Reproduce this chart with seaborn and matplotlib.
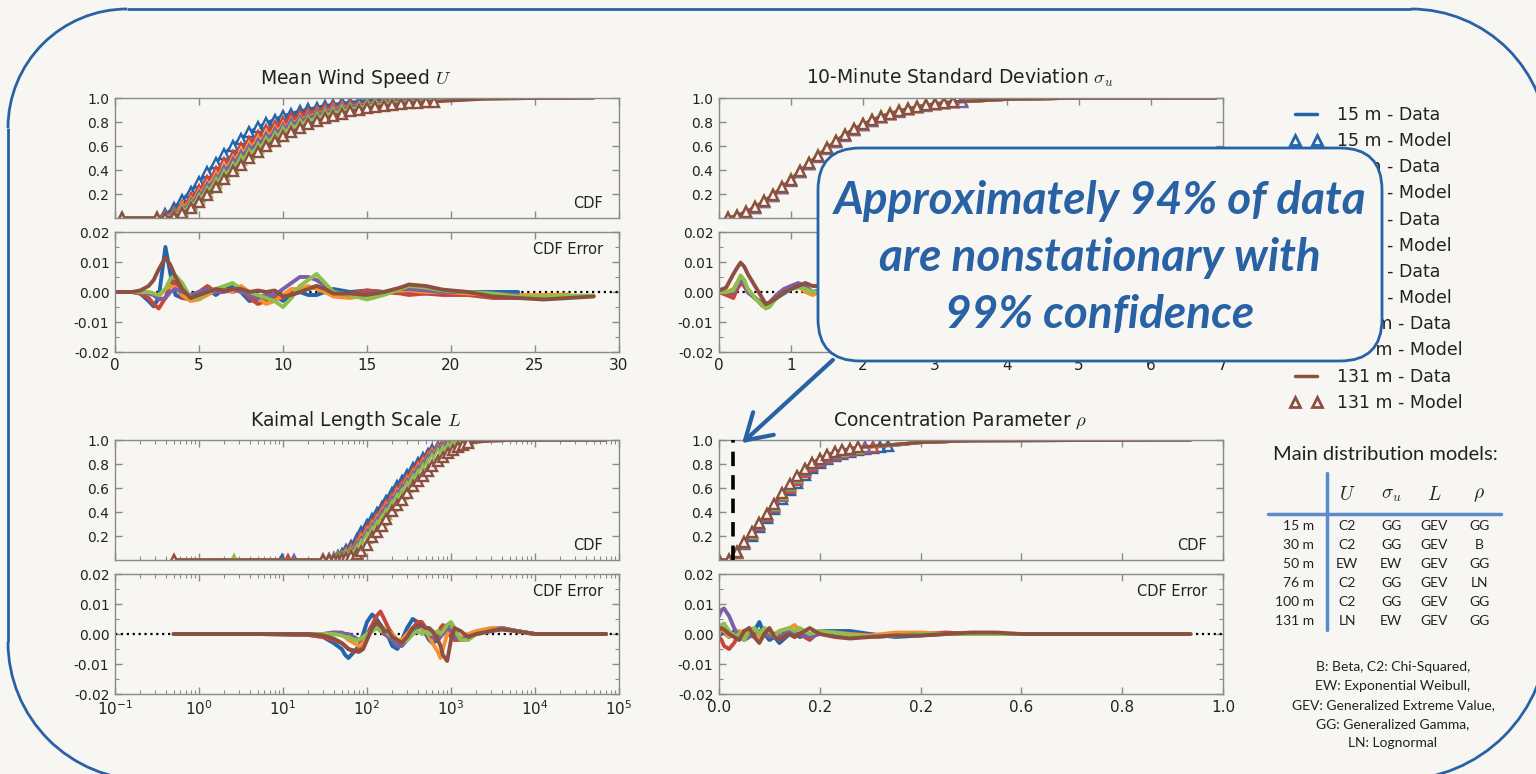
import matplotlib
matplotlib.use("Agg")
import matplotlib.pyplot as plt
from matplotlib.lines import Line2D
from matplotlib.patches import FancyBboxPatch, FancyArrowPatch, Arc
from matplotlib.ticker import MultipleLocator, FormatStrFormatter, FixedLocator, FixedFormatter
import pandas as pd
import seaborn as sns

# ---------------- data ----------------
heights = ['15 m', '30 m', '50 m', '76 m', '100 m', '131 m']
colors = ['#2165ab', '#c8463b', '#f5912e', '#7b5fa8', '#8dbf4c', '#8c4f40']

# Mean wind speed U : model CDF points
U_x_model = [0.4, 2.5, 3.0, 3.5, 4.0, 4.5, 5.0, 5.5, 6.0, 6.5, 7.0, 7.5, 8.0, 8.5, 9.0, 9.5,
             10.0, 10.5, 11.0, 11.5, 12.0, 12.5, 13.0, 13.5, 14.0, 14.5, 15.0, 15.5, 16.0,
             16.5, 17.0, 17.5, 18.0, 18.5, 19.0]
U_cdf = {
    '15 m': [0, 0, 0.03, 0.08, 0.15, 0.22, 0.30, 0.38, 0.46, 0.535, 0.60, 0.66, 0.715, 0.755, 0.79,
             0.82, 0.85, 0.87, 0.89, 0.905, 0.92, 0.935, 0.945, 0.955, 0.962, 0.97, 0.978],
    '30 m': [0, 0, 0.015, 0.05, 0.10, 0.165, 0.235, 0.31, 0.385, 0.455, 0.52, 0.58, 0.635, 0.685,
             0.73, 0.77, 0.80, 0.83, 0.855, 0.875, 0.895, 0.91, 0.925, 0.935, 0.945],
    '50 m': [0, 0, 0.008, 0.035, 0.08, 0.135, 0.20, 0.27, 0.34, 0.41, 0.475, 0.535, 0.59, 0.64,
             0.685, 0.725, 0.76, 0.79, 0.82, 0.845, 0.865, 0.885, 0.90, 0.915, 0.927, 0.937,
             0.946, 0.953, 0.96, 0.966],
    '76 m': [0, 0, 0.005, 0.03, 0.07, 0.12, 0.18, 0.25, 0.32, 0.39, 0.455, 0.515, 0.57, 0.62,
             0.665, 0.705, 0.745, 0.78, 0.81, 0.835, 0.857, 0.877, 0.895, 0.91, 0.923, 0.934, 0.943],
    '100 m': [0, 0, 0.003, 0.02, 0.055, 0.10, 0.155, 0.22, 0.29, 0.355, 0.42, 0.48, 0.535, 0.585,
              0.63, 0.675, 0.715, 0.75, 0.78, 0.81, 0.835, 0.855, 0.875, 0.89, 0.905, 0.918, 0.93,
              0.94, 0.948, 0.955, 0.961, 0.966, 0.97, 0.974],
    '131 m': [0, 0, 0, 0.01, 0.04, 0.08, 0.13, 0.19, 0.26, 0.325, 0.39, 0.445, 0.50, 0.55, 0.60,
              0.64, 0.68, 0.715, 0.75, 0.78, 0.805, 0.83, 0.85, 0.87, 0.89, 0.90, 0.915, 0.925,
              0.935, 0.943, 0.95, 0.957, 0.962, 0.966, 0.97],
}
# data-line tail after the last model marker
U_tail_x = {'15 m': [18, 21], '30 m': [18, 22], '50 m': [20, 23], '76 m': [18, 21],
            '100 m': [22, 25], '131 m': [22, 25]}
U_tail_y = [0.992, 0.998]
U_line_end = {'15 m': 24.6, '30 m': 27.5, '50 m': 26.8, '76 m': 24.5, '100 m': 28.4, '131 m': 28.5}

U_err_x = [0, 1.0, 1.5, 2.0, 2.3, 2.6, 3.0, 3.3, 3.6, 4.0, 4.5, 5.0, 5.5, 6.0, 6.5, 7.0, 7.5, 8.0,
           8.5, 9.0, 9.5, 10.0, 10.5, 11.0, 11.5, 12.0, 12.5, 13.0, 14.0, 15.0, 16.0, 17.0, 17.5,
           18.5, 19.5, 21.0, 22.5, 24.0, 25.5, 27.0, 28.5]
U_err = {
    '15 m': [0, 0, -0.0005, -0.003, -0.0048, -0.002, 0.015, 0.006, -0.001, -0.002, -0.001, 0.0,
             0.001, -0.001, 0.001, 0.002, 0.0, -0.003, -0.0025, -0.002, -0.001, -0.003, -0.001,
             0.0, -0.001, -0.001, 0.0, 0.001, 0.0, 0.0005, 0.0, 0.0, 0.0, -0.0005, -0.0005, 0.0,
             0.0, 0.0],
    '30 m': [0, 0, -0.0005, -0.002, -0.004, -0.0055, -0.002, 0.003, 0.0035, -0.002, -0.0025, 0.0,
             0.002, 0.0, 0.001, 0.0, 0.001, -0.002, -0.004, -0.003, -0.002, -0.002, 0.0, 0.001,
             0.001, 0.002, 0.0, -0.001, -0.0005, 0.0005, 0.0, -0.0005, -0.001, -0.0005, -0.001,
             -0.001, -0.002, -0.002, -0.002, -0.0015],
    '50 m': [0, 0, 0, -0.0005, -0.001, -0.0015, 0.001, 0.002, 0.0015, -0.001, -0.003, -0.0025,
             -0.001, 0.0005, 0.001, 0.0, 0.002, 0.0, -0.002, -0.004, -0.003, -0.001, 0.001, 0.001,
             0.002, 0.001, 0.0, -0.0015, -0.002, -0.001, 0.0, 0.0005, 0.0005, 0.0, 0.0, -0.0005,
             -0.001, -0.001, -0.001, -0.0008],
    '76 m': [0, 0, 0, -0.0005, -0.001, -0.0025, -0.002, 0.0, 0.001, 0.0, -0.001, 0.0, 0.001, 0.0,
             0.0, 0.001, 0.0, -0.001, -0.002, -0.001, -0.001, 0.001, 0.003, 0.005, 0.005, 0.004,
             0.002, 0.0, -0.001, -0.0005, 0.0, 0.001, 0.001, 0.0005, 0.0, 0.0, -0.0005, -0.001],
    '100 m': [0, 0, 0, 0, -0.0005, -0.001, 0.001, 0.0045, 0.0055, 0.003, -0.002, -0.002, 0.0,
              0.001, 0.002, 0.003, 0.001, 0.0, -0.001, -0.002, -0.003, -0.005, -0.002, 0.002,
              0.004, 0.006, 0.003, 0.0, -0.001, -0.0025, -0.001, 0.001, 0.002, 0.0015, 0.0005, 0.0,
              -0.0005, -0.0015, -0.0015, -0.0012, -0.0012],
    '131 m': [0, 0, 0.0005, 0.002, 0.004, 0.0075, 0.0115, 0.009, 0.005, 0.001, -0.002, -0.001,
              0.0, 0.001, 0.0005, 0.001, 0.001, 0.0, 0.0005, 0.0, 0.0005, -0.0015, -0.001, 0.0,
              0.001, 0.002, 0.001, -0.0005, -0.0005, -0.001, 0.0, 0.0015, 0.0025, 0.002, 0.0008,
              0.0, -0.0015, -0.002, -0.0025, -0.002, -0.0015],
}

# 10-minute standard deviation sigma_u
S_x_model = [0.125, 0.25, 0.375, 0.5, 0.625, 0.75, 0.875, 1.0, 1.125, 1.25, 1.375, 1.5, 1.625,
             1.75, 1.875, 2.0, 2.125, 2.25, 2.375, 2.5, 2.625, 2.75, 2.875, 3.0, 3.125, 3.25, 3.375]
S_cdf = {
    '15 m': [0, 0.018, 0.047, 0.087, 0.135, 0.186, 0.25, 0.315, 0.385, 0.45, 0.515, 0.58, 0.636,
             0.69, 0.737, 0.777, 0.812, 0.843, 0.868, 0.888, 0.908, 0.923, 0.938, 0.948, 0.958,
             0.965, 0.971],
    '30 m': [0, 0.019, 0.049, 0.089, 0.138, 0.189, 0.253, 0.318, 0.388, 0.453, 0.518, 0.583,
             0.638, 0.693, 0.739, 0.779, 0.814, 0.844, 0.869, 0.889, 0.909, 0.924, 0.939, 0.949,
             0.959, 0.966],
    '50 m': [0, 0.02, 0.05, 0.09, 0.14, 0.19, 0.255, 0.32, 0.39, 0.455, 0.52, 0.585, 0.64, 0.694,
             0.74, 0.78, 0.815, 0.845, 0.87, 0.89, 0.91, 0.925, 0.94, 0.95, 0.96, 0.967],
    '76 m': [0, 0.017, 0.045, 0.085, 0.133, 0.183, 0.247, 0.312, 0.382, 0.447, 0.512, 0.577,
             0.633, 0.687, 0.734, 0.774, 0.81, 0.84, 0.866, 0.886, 0.906, 0.921, 0.936, 0.946,
             0.956, 0.963, 0.969],
    '100 m': [0, 0.02, 0.051, 0.091, 0.141, 0.192, 0.257, 0.322, 0.392, 0.457, 0.522, 0.586,
              0.641, 0.695, 0.741, 0.781, 0.816, 0.846, 0.871, 0.891, 0.911, 0.926, 0.94, 0.951,
              0.96],
    '131 m': [0, 0.02, 0.05, 0.09, 0.14, 0.19, 0.255, 0.32, 0.39, 0.455, 0.52, 0.585, 0.64, 0.695,
              0.74, 0.78, 0.815, 0.845, 0.87, 0.89, 0.91, 0.925, 0.94, 0.95, 0.96, 0.967],
}
S_tail_x = {h: [4.0, 4.8] for h in heights}
S_tail_y = [0.99, 0.998]
S_line_end = {h: 6.9 for h in heights}

S_err_x = [0.0, 0.1, 0.2, 0.25, 0.3, 0.35, 0.4, 0.5, 0.6, 0.65, 0.7, 0.8, 0.9, 1.0, 1.1, 1.2,
           1.3, 1.4, 1.6, 1.8, 2.0, 2.5, 3.0, 3.5, 4.0, 5.0, 6.0, 6.9]
S_err = {
    '15 m': [0, 0.0, -0.0005, 0.001, 0.003, 0.003, 0.0, -0.002, -0.004, -0.0045, -0.004, -0.002,
             -0.0005, 0.001, 0.002, 0.001, 0.0, -0.0005, 0.0, 0.0005, 0.0, -0.0005, 0.0, 0.0, 0.0,
             0.0, 0.0, 0.0],
    '30 m': [0, -0.001, -0.002, 0.001, 0.003, 0.002, 0.0, -0.002, -0.0045, -0.005, -0.004, -0.002,
             0.0, 0.002, 0.0025, 0.001, 0.0, 0.0005, 0.0, -0.0005, 0.0, 0.0, 0.0005, 0.0, 0.0, 0.0,
             0.0, 0.0],
    '50 m': [0, 0.0, 0.001, 0.003, 0.0045, 0.003, 0.001, -0.002, -0.004, -0.0045, -0.004, -0.001,
             0.0, 0.002, 0.002, 0.0, -0.001, 0.0, 0.0005, 0.0, -0.0005, 0.0, 0.0, 0.0, 0.0, 0.0,
             0.0, 0.0],
    '76 m': [0, 0.0, 0.0, 0.002, 0.004, 0.003, 0.0, -0.002, -0.0035, -0.004, -0.0035, -0.001, 0.001,
             0.002, 0.003, 0.002, 0.0, 0.0005, 0.0, 0.0, 0.0005, 0.0, 0.0, 0.0, 0.0, 0.0, 0.0, 0.0],
    '100 m': [0, 0.0, 0.0005, 0.003, 0.0055, 0.004, 0.001, -0.002, -0.0045, -0.0055, -0.005,
              -0.002, 0.0, 0.001, 0.0015, 0.001, 0.0, 0.0, -0.0005, 0.0, 0.0, 0.0005, 0.0, 0.0,
              0.0, 0.0, 0.0, 0.0],
    '131 m': [0.0005, 0.0015, 0.006, 0.008, 0.0098, 0.0085, 0.006, 0.002, -0.002, -0.004, -0.0035,
              -0.002, 0.0, 0.001, 0.002, 0.003, 0.002, 0.002, 0.001, 0.0, -0.001, -0.0005, 0.0,
              0.0005, 0.0, 0.0, 0.0, 0.0],
}

# Kaimal length scale L
L_x_model = [30, 35, 40, 45, 50, 57, 65, 75, 85, 100, 115, 130, 150, 170, 200, 230, 260, 300, 350,
             400, 460, 530, 600, 700, 800, 920, 1050, 1200, 1400, 1600]
L_low = {'15 m': 9.8, '30 m': 11.6, '50 m': 0.5, '76 m': 13.5, '100 m': 2.6, '131 m': 0.5}
L_cdf = {
    '15 m': [0.0, 0.005, 0.015, 0.03, 0.05, 0.08, 0.115, 0.175, 0.23, 0.29, 0.34, 0.395, 0.445,
             0.495, 0.56, 0.615, 0.66, 0.71, 0.77, 0.81, 0.85, 0.885, 0.915, 0.945, 0.965, 0.98,
             0.99],
    '30 m': [0, 0.003, 0.01, 0.02, 0.035, 0.06, 0.09, 0.14, 0.19, 0.25, 0.30, 0.35, 0.405, 0.455,
             0.52, 0.575, 0.62, 0.675, 0.735, 0.78, 0.825, 0.865, 0.895, 0.93, 0.955, 0.97, 0.985,
             0.993],
    '50 m': [0, 0.002, 0.007, 0.015, 0.027, 0.048, 0.075, 0.12, 0.165, 0.225, 0.275, 0.325, 0.38,
             0.43, 0.495, 0.55, 0.595, 0.65, 0.71, 0.755, 0.80, 0.845, 0.88, 0.915, 0.94, 0.96,
             0.975, 0.985],
    '76 m': [0, 0.001, 0.005, 0.012, 0.022, 0.04, 0.065, 0.105, 0.15, 0.21, 0.26, 0.31, 0.365,
             0.415, 0.48, 0.535, 0.58, 0.635, 0.695, 0.74, 0.785, 0.83, 0.865, 0.905, 0.93, 0.955,
             0.97, 0.982, 0.99],
    '100 m': [0, 0, 0.003, 0.008, 0.016, 0.03, 0.05, 0.085, 0.125, 0.18, 0.23, 0.28, 0.335, 0.385,
              0.45, 0.505, 0.55, 0.605, 0.665, 0.71, 0.755, 0.80, 0.84, 0.88, 0.91, 0.935, 0.955,
              0.97, 0.98, 0.988],
    '131 m': [0, 0, 0, 0.003, 0.008, 0.018, 0.03, 0.048, 0.075, 0.125, 0.19, 0.23, 0.285, 0.34,
              0.405, 0.455, 0.5, 0.555, 0.615, 0.655, 0.70, 0.745, 0.78, 0.825, 0.86, 0.895, 0.92,
              0.945, 0.96, 0.975],
}
L_tail_x = {h: [3000, 6000] for h in heights}
L_tail_y = [0.995, 0.999]
L_line_start = 0.5
L_line_end = {h: 7.0e4 for h in heights}

L_err_x = [0.5, 5, 20, 30, 40, 50, 55, 60, 70, 80, 90, 100, 115, 130, 145, 160, 180, 200, 230,
           260, 300, 350, 400, 450, 500, 550, 600, 700, 750, 800, 900, 1000, 1100, 1300, 1600,
           2000, 3000, 4000, 6000, 10000, 20000, 70000]
L_err = {
    '15 m': [0, 0, -0.0003, -0.001, -0.003, -0.005, -0.007, -0.008, -0.006, -0.004, 0.0, 0.004,
             0.0065, 0.005, 0.003, 0.001, -0.001, -0.004, -0.005, -0.002, 0.002, 0.005, 0.004,
             0.002, 0.0, -0.002, -0.003, -0.002, 0.0, 0.002, 0.003, 0.002, 0.0, -0.002, -0.001,
             0.0, 0.0015, 0.002, 0.001, 0.0, 0.0, 0.0],
    '30 m': [0, 0, -0.0003, -0.001, -0.002, -0.003, -0.004, -0.005, -0.006, -0.005, -0.002, 0.0,
             0.003, 0.006, 0.0075, 0.005, 0.002, 0.0, -0.003, -0.002, 0.0, 0.002, 0.004, 0.004,
             0.002, 0.0, -0.002, -0.001, 0.002, 0.003, 0.001, -0.001, -0.002, -0.002, -0.001, 0.0,
             0.001, 0.002, 0.001, 0.0, 0.0, 0.0],
    '50 m': [0, 0, 0, 0, 0.0005, 0.0, -0.001, -0.002, -0.003, -0.004, -0.003, -0.001, 0.001, 0.002,
             0.001, 0.0, 0.001, 0.0, -0.002, -0.002, 0.0, 0.002, 0.003, 0.002, 0.001, -0.001,
             -0.003, -0.006, -0.008, -0.005, 0.0, 0.002, 0.0, -0.001, 0.0, 0.001, 0.002, 0.002,
             0.001, 0.0, 0.0, 0.0],
    '76 m': [0, 0, 0, 0.0, 0.0005, 0.0005, 0.0, 0.0, -0.001, -0.002, -0.001, 0.0, 0.002, 0.003,
             0.002, 0.0, -0.001, -0.002, -0.004, -0.004, -0.002, 0.0, 0.002, 0.003, 0.002, 0.0,
             -0.001, -0.002, -0.001, 0.0, 0.002, 0.001, -0.001, -0.002, -0.001, 0.0, 0.001, 0.002,
             0.001, 0.0, 0.0, 0.0],
    '100 m': [0, 0, 0, 0, 0, -0.0005, -0.001, -0.001, -0.002, -0.002, -0.001, 0.0, 0.001, 0.002,
              0.001, 0.002, 0.0, -0.001, -0.002, -0.003, -0.002, 0.0, 0.001, 0.0, 0.001, 0.0, 0.0,
              0.001, 0.0, 0.001, 0.003, 0.004, 0.002, -0.002, -0.002, 0.0, 0.001, 0.0015, 0.001,
              0.0, 0.0, 0.0],
    '131 m': [0, 0, 0, -0.0005, -0.0015, -0.003, -0.004, -0.005, -0.0055, -0.006, -0.005, -0.002,
              0.002, 0.004, 0.003, 0.001, 0.001, -0.001, -0.002, -0.003, -0.001, 0.002, 0.003,
              0.003, 0.002, 0.002, 0.001, -0.002, -0.004, -0.007, -0.009, -0.002, 0.002, 0.001,
              -0.001, 0.0, 0.001, 0.0015, 0.001, 0.0, 0.0, 0.0],
}

# Concentration parameter rho
R_x_model = [0.0, 0.02, 0.035, 0.05, 0.065, 0.08, 0.095, 0.11, 0.125, 0.14, 0.155, 0.17, 0.185,
             0.2, 0.215, 0.23, 0.245, 0.26, 0.275, 0.29, 0.305, 0.32, 0.335]
R_cdf = {
    '15 m': [0, 0, 0.055, 0.13, 0.2, 0.275, 0.35, 0.425, 0.51, 0.58, 0.645, 0.71, 0.765, 0.81,
             0.84, 0.865, 0.885, 0.9, 0.915, 0.925, 0.935, 0.943, 0.95],
    '30 m': [0, 0, 0.06, 0.14, 0.215, 0.29, 0.365, 0.44, 0.53, 0.6, 0.665, 0.73, 0.782, 0.822,
             0.852, 0.877, 0.895, 0.91, 0.922, 0.932, 0.94],
    '50 m': [0, 0, 0.065, 0.145, 0.225, 0.3, 0.378, 0.455, 0.545, 0.62, 0.685, 0.75, 0.8, 0.835,
             0.865, 0.89, 0.907, 0.92, 0.932],
    '76 m': [0, 0, 0.065, 0.145, 0.222, 0.3, 0.375, 0.452, 0.543, 0.618, 0.682, 0.746, 0.797,
             0.832, 0.862, 0.887, 0.904, 0.918, 0.93, 0.94],
    '100 m': [0, 0, 0.068, 0.148, 0.228, 0.305, 0.382, 0.46, 0.552, 0.628, 0.692, 0.755, 0.806,
              0.84, 0.871, 0.897, 0.912, 0.925, 0.936],
    '131 m': [0, 0, 0.07, 0.15, 0.23, 0.31, 0.385, 0.465, 0.557, 0.633, 0.696, 0.758, 0.81, 0.842,
              0.874, 0.9, 0.915, 0.927, 0.938],
}
R_tail_x = {h: [0.4, 0.5] for h in heights}
R_tail_y = [0.98, 0.995]
R_line_end = {h: 0.935 for h in heights}
rho_threshold = 0.028
R_tick_labels = ['0.0', '0.2', '0.2', '0.6', '0.8', '1.0']

R_err_x = [0.0, 0.005, 0.01, 0.02, 0.03, 0.04, 0.05, 0.06, 0.07, 0.08, 0.09, 0.1, 0.11, 0.12,
           0.14, 0.15, 0.16, 0.18, 0.2, 0.23, 0.26, 0.3, 0.35, 0.4, 0.45, 0.5, 0.55, 0.6, 0.7,
           0.8, 0.935]
R_err = {
    '15 m': [0.001, 0.0, 0.0005, -0.001, 0.001, 0.0, 0.001, 0.0, 0.001, 0.004, 0.0, -0.002,
             -0.001, -0.003, 0.0, 0.001, -0.001, 0.0, 0.001, 0.001, 0.001, 0.0, -0.001, -0.0005,
             0.0, 0.0, 0.0, 0.0, 0.0, 0.0, 0.0],
    '30 m': [-0.001, -0.002, -0.004, -0.005, -0.003, 0.0, 0.001, 0.0, -0.001, 0.0, 0.001, 0.0,
             -0.001, 0.001, 0.0, -0.001, 0.0, -0.002, 0.001, 0.0, -0.001, -0.001, -0.0005, 0.0,
             0.0005, 0.0, 0.0, 0.0, 0.0, 0.0, 0.0],
    '50 m': [0.0, 0.002, 0.001, -0.001, 0.0, 0.001, 0.0, 0.002, 0.001, -0.001, 0.0, 0.001, 0.0,
             0.001, 0.002, 0.003, 0.001, 0.0, 0.0, 0.0005, 0.0, -0.0005, 0.0005, 0.0005, 0.0, 0.0,
             0.0, 0.0, 0.0, 0.0, 0.0],
    '76 m': [0.006, 0.008, 0.0085, 0.006, 0.002, -0.001, -0.002, -0.001, 0.0, 0.001, 0.0, -0.001,
             0.0, -0.001, 0.001, 0.0, 0.0, -0.001, 0.0, 0.0, -0.001, -0.001, -0.0005, 0.0, 0.0,
             0.0, 0.0, 0.0, 0.0, 0.0, 0.0],
    '100 m': [0.002, 0.003, 0.0035, 0.001, -0.001, 0.0, -0.002, 0.001, 0.002, 0.0, 0.002, 0.001,
              -0.001, 0.001, 0.002, 0.001, 0.002, 0.0, 0.001, 0.0005, -0.0005, -0.001, -0.0005,
              0.0, 0.0, 0.0, 0.0, 0.0, 0.0, 0.0, 0.0],
    '131 m': [0.0015, 0.002, 0.0015, 0.0, -0.001, -0.002, 0.001, 0.002, -0.001, -0.003, 0.0,
              0.002, -0.001, -0.002, 0.0, -0.001, 0.0, 0.002, 0.0, -0.001, -0.0015, -0.001,
              -0.0005, -0.0005, 0.0, 0.0005, 0.0005, 0.0, 0.0, 0.0, 0.0],
}

# table of main distribution models
table_cols = [r'$U$', r'$\sigma_u$', r'$L$', r'$\rho$']
table_rows = ['15 m', '30 m', '50 m', '76 m', '100 m', '131 m']
table_cells = [['C2', 'GG', 'GEV', 'GG'],
               ['C2', 'GG', 'GEV', 'B'],
               ['EW', 'EW', 'GEV', 'GG'],
               ['C2', 'GG', 'GEV', 'LN'],
               ['C2', 'GG', 'GEV', 'GG'],
               ['LN', 'EW', 'GEV', 'GG']]
footnote = ['B: Beta, C2: Chi-Squared,', 'EW: Exponential Weibull,',
            'GEV: Generalized Extreme Value,', 'GG: Generalized Gamma,', 'LN: Lognormal']
callout = ['Approximately 94% of data', 'are nonstationary with', '99% confidence']

# ---------------- style ----------------
BG = '#F7F6F3'
BLUE = '#2862a4'
GRAY = '#8a8a8a'
W, H = 1536, 774

sns.set_style('ticks')
plt.rcParams['font.family'] = ['DejaVu Sans']
plt.rcParams['mathtext.fontset'] = 'cm'
plt.rcParams['axes.unicode_minus'] = False
plt.rcParams['text.color'] = '#222222'
plt.rcParams['xtick.color'] = GRAY
plt.rcParams['ytick.color'] = GRAY
plt.rcParams['xtick.labelcolor'] = '#222222'
plt.rcParams['ytick.labelcolor'] = '#222222'

fig = plt.figure(figsize=(W / 100, H / 100), dpi=100, facecolor=BG)


def px_axes(l, t, r, b):
    ax = fig.add_axes([l / W, 1 - b / H, (r - l) / W, (b - t) / H])
    ax.set_facecolor('none')
    for s in ax.spines.values():
        s.set_color(GRAY)
        s.set_linewidth(1.0)
    ax.tick_params(which='major', direction='in', top=True, right=True, length=5, width=1,
                   labelsize=10, pad=4)
    ax.tick_params(which='minor', direction='in', top=True, right=True, length=3, width=0.8)
    return ax


def frames(x_model, cdf, tail_x, tail_y, line_end, low=None, line_start=None):
    mrows, lrows = [], []
    for h in heights:
        ys = list(cdf[h])
        xs = list(x_model[:len(ys)])
        if low is not None:
            xs = [low[h]] + xs
            ys = [0.0] + ys
        for x, y in zip(xs, ys):
            mrows.append((h, x, y))
        lx = xs + list(tail_x[h]) + [line_end[h]]
        ly = ys + list(tail_y) + [1.0]
        if line_start is not None and line_start < lx[0]:
            lx = [line_start] + lx
            ly = [0.0] + ly
        for x, y in zip(lx, ly):
            lrows.append((h, x, y))
    return (pd.DataFrame(mrows, columns=['h', 'x', 'y']),
            pd.DataFrame(lrows, columns=['h', 'x', 'y']))


def err_frame(x_err, err):
    rows = []
    for h in heights:
        for x, y in zip(x_err, err[h]):
            rows.append((h, x, y))
    return pd.DataFrame(rows, columns=['h', 'x', 'y'])


def draw_panel(box_cdf, box_err, title, x_model, cdf, tail_x, tail_y, line_end, x_err, err,
               xlim, xticks, xticklabels=None, log=False, low=None, line_start=None):
    ax1 = px_axes(*box_cdf)
    ax2 = px_axes(*box_err)
    for ax in (ax1, ax2):
        if log:
            ax.set_xscale('log')
        ax.set_xlim(*xlim)
    dfm, dfl = frames(x_model, cdf, tail_x, tail_y, line_end, low, line_start)
    for h, c in zip(heights, colors):
        sns.lineplot(data=dfl[dfl.h == h], x='x', y='y', color=c, estimator=None, sort=False,
                     lw=2.4, ax=ax1, legend=False)
        sns.lineplot(data=dfm[dfm.h == h], x='x', y='y', color=c, estimator=None, sort=False,
                     marker='^', linestyle='none', ms=7, mfc=BG, mec=c, mew=1.7, ax=ax1,
                     legend=False)
    ax1.set_ylim(0, 1.0)
    ax1.yaxis.set_major_locator(FixedLocator([0.2, 0.4, 0.6, 0.8, 1.0]))
    ax1.yaxis.set_major_formatter(FormatStrFormatter('%.1f'))
    ax1.tick_params(labelbottom=False)
    ax1.text(0.968, 0.125, 'CDF', transform=ax1.transAxes, ha='right', va='center', fontsize=10.5)
    ax1.set_title(title, fontsize=13.5, pad=10, x=0.478)
    ax1.set_xlabel('')
    ax1.set_ylabel('')

    ax2.axhline(0, color='black', ls=':', lw=1.6, zorder=1)
    dfe = err_frame(x_err, err)
    sns.lineplot(data=dfe, x='x', y='y', hue='h', hue_order=heights, palette=colors,
                 estimator=None, sort=False, lw=2.8, ax=ax2, legend=False)
    ax2.set_ylim(-0.02, 0.02)
    ax2.yaxis.set_major_locator(FixedLocator([-0.02, -0.01, 0.0, 0.01, 0.02]))
    ax2.yaxis.set_minor_locator(MultipleLocator(0.005))
    ax2.yaxis.set_major_formatter(FormatStrFormatter('%.2f'))
    ax2.text(0.968, 0.85, 'CDF Error', transform=ax2.transAxes, ha='right', va='center',
             fontsize=10.5)
    ax2.set_xlabel('')
    ax2.set_ylabel('')
    if not log:
        for ax in (ax1, ax2):
            ax.xaxis.set_major_locator(FixedLocator(xticks))
        if xticklabels is not None:
            ax2.xaxis.set_major_formatter(FixedFormatter(xticklabels))
    ax2.tick_params(axis='x', labelsize=11)
    return ax1, ax2


draw_panel((115, 98, 619, 218), (115, 232, 619, 352), r'Mean Wind Speed $U$',
           U_x_model, U_cdf, U_tail_x, U_tail_y, U_line_end, U_err_x, U_err, (0, 30),
           [0, 5, 10, 15, 20, 25, 30])
draw_panel((719, 98, 1223, 218), (719, 232, 1223, 352), r'10-Minute Standard Deviation $\sigma_u$',
           S_x_model, S_cdf, S_tail_x, S_tail_y, S_line_end, S_err_x, S_err, (0, 7),
           [0, 1, 2, 3, 4, 5, 6, 7])
draw_panel((115, 440, 619, 560), (115, 574, 619, 694), r'Kaimal Length Scale $L$',
           L_x_model, L_cdf, L_tail_x, L_tail_y, L_line_end, L_err_x, L_err, (0.1, 1e5), None,
           log=True, low=L_low, line_start=L_line_start)
axr1, axr2 = draw_panel((719, 440, 1223, 560), (719, 574, 1223, 694),
                        r'Concentration Parameter $\rho$', R_x_model, R_cdf, R_tail_x, R_tail_y,
                        R_line_end, R_err_x, R_err, (0, 1.0), [0.0, 0.2, 0.4, 0.6, 0.8, 1.0],
                        xticklabels=R_tick_labels)
axr1.plot([rho_threshold, rho_threshold], [0, 1], color='black', ls='--', lw=2.6,
          dashes=(4, 2.5), zorder=5)

# legend
handles = []
for h, c in zip(heights, colors):
    handles.append(Line2D([], [], color=c, lw=2.5, label=f'{h} - Data'))
    handles.append(Line2D([], [], color=c, marker='^', ls='none', mfc=BG, mec=c, mew=2.0,
                          ms=7, label=f'{h} - Model'))
fig.legend(handles=handles, loc='upper left', bbox_to_anchor=(1290 / W, 1 - 106 / H),
           frameon=False, fontsize=12.5, numpoints=2, handlelength=1.85, handletextpad=0.85,
           labelspacing=0.47, borderpad=0, borderaxespad=0)

# overlay for slide decorations
ov = fig.add_axes([0, 0, 1, 1], zorder=10)
ov.set_xlim(0, W)
ov.set_ylim(H, 0)
ov.axis('off')
ov.patch.set_alpha(0)

# outer rounded frame of the slide (edges and per-corner radii, in pixels)
fl, fr, ft, fb = 8, 1548, 9, 780
r_tl, r_tr, r_br, r_bl = 119, 137, 150, 138
fkw = dict(color=BLUE, lw=2)
ov.plot([fl + r_tl, fr - r_tr], [ft, ft], solid_capstyle='butt', **fkw)
ov.plot([fl, fl], [ft + r_tl, fb - r_bl], solid_capstyle='butt', **fkw)
ov.plot([fr, fr], [ft + r_tr, fb - r_br], solid_capstyle='butt', **fkw)
ov.plot([fl + r_bl, fr - r_br], [fb, fb], solid_capstyle='butt', **fkw)
ov.add_patch(Arc((fl + r_tl, ft + r_tl), 2 * r_tl, 2 * r_tl, theta1=180, theta2=270, **fkw))
ov.add_patch(Arc((fr - r_tr, ft + r_tr), 2 * r_tr, 2 * r_tr, theta1=270, theta2=360, **fkw))
ov.add_patch(Arc((fr - r_br, fb - r_br), 2 * r_br, 2 * r_br, theta1=0, theta2=90, **fkw))
ov.add_patch(Arc((fl + r_bl, fb - r_bl), 2 * r_bl, 2 * r_bl, theta1=90, theta2=180, **fkw))

ov.add_patch(FancyBboxPatch((818, 148), 564, 213, boxstyle='round,pad=0,rounding_size=42',
                            fc=BG, ec=BLUE, lw=2))
for txt, yb in zip(callout, [214, 271, 328]):
    ov.text(1100, yb, txt, ha='center', va='baseline', fontsize=33, color=BLUE,
            family=['Lato', 'DejaVu Sans'], fontweight='bold', fontstyle='italic')
ov.add_patch(FancyArrowPatch((835, 358), (740, 445), arrowstyle='->,head_length=0.9,head_width=0.55',
                             mutation_scale=20, color=BLUE, lw=3))

# table
slide_font = ['Lato', 'DejaVu Sans']
ov.text(1385, 455, 'Main distribution models:', ha='center', va='center', fontsize=14.5,
        family=slide_font)
col_x = [1347, 1391, 1434, 1479]
for cx, lab in zip(col_x, table_cols):
    ov.text(cx, 495, lab, ha='center', va='center', fontsize=14)
row_y = [526, 545, 564, 583, 602, 621]
for ry, rlab, cells in zip(row_y, table_rows, table_cells):
    ov.text(1314, ry, rlab, ha='right', va='center', fontsize=10, family=slide_font)
    for cx, c in zip(col_x, cells):
        ov.text(cx, ry, c, ha='center', va='center', fontsize=10, family=slide_font)
ov.plot([1327, 1327], [473, 630], color='#5b8bc8', lw=2.5)
ov.plot([1268, 1501], [514, 514], color='#5b8bc8', lw=2.5)
for fy, f in zip([667, 686, 705, 724, 743], footnote):
    ov.text(1393, fy, f, ha='center', va='center', fontsize=10, family=slide_font)

fig.savefig('out.png', dpi=100, facecolor=BG)
